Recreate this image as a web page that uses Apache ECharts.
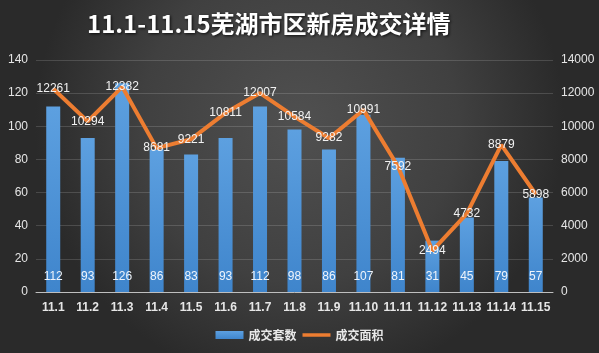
<!DOCTYPE html>
<html>
<head>
<meta charset="utf-8">
<script src="https://cdn.jsdelivr.net/npm/echarts@6/dist/echarts.min.js"></script>
<style>html,body{margin:0;padding:0;background:#333;}#c{width:599px;height:353px;}</style>
</head>
<body>
<div id="c"></div>
<script>
var categories = ['11.1','11.2','11.3','11.4','11.5','11.6','11.7','11.8','11.9','11.10','11.11','11.12','11.13','11.14','11.15'];
var units = [112, 93, 126, 86, 83, 93, 112, 98, 86, 107, 81, 31, 45, 79, 57];
var areas = [12261, 10294, 12382, 8681, 9221, 10811, 12007, 10584, 9282, 10991, 7592, 2494, 4732, 8879, 5898];
var leftTicks = [0, 20, 40, 60, 80, 100, 120, 140];
var rightTicks = [0, 2000, 4000, 6000, 8000, 10000, 12000, 14000];

var chart = echarts.init(document.getElementById('c'), null, {renderer: 'canvas'});
var labelFont = '"Liberation Sans", "Noto Sans", sans-serif';
var option = {
  animation: false,
  backgroundColor: {
    type: 'radial', x: 0.5, y: 0.35, r: 0.75,
    colorStops: [{offset: 0, color: '#505050'}, {offset: 0.6, color: '#404040'}, {offset: 1, color: '#2a2a2a'}]
  },
  title: {
    text: '11.1-11.15芜湖市区新房成交详情',
    left: 82, top: 7,
    textStyle: {
      color: '#ffffff', fontSize: 24, fontWeight: 'bold',
      fontFamily: '"Noto Sans CJK SC", sans-serif',
      textShadowColor: 'rgba(0,0,0,0.8)', textShadowBlur: 3, textShadowOffsetX: 1, textShadowOffsetY: 1
    }
  },
  legend: {
    bottom: 7, left: 'center', itemGap: 6,
    itemWidth: 28, itemHeight: 8,
    textStyle: {color: '#e8e8e8', fontSize: 12, fontWeight: 'bold', fontFamily: '"Noto Sans CJK SC", sans-serif'},
    data: [{name: '成交套数', icon: 'rect'}, {name: '成交面积', icon: 'path://M0,0H28V3.5H0Z'}]
  },
  grid: {left: 36, right: 46, top: 60, bottom: 61},
  xAxis: {
    type: 'category', data: categories,
    axisLine: {lineStyle: {color: '#bfbfbf', width: 1}},
    axisTick: {show: false},
    axisLabel: {color: '#e6e6e6', fontSize: 12, fontWeight: 'bold', margin: 10, fontFamily: labelFont, interval: 0}
  },
  yAxis: [{
    type: 'value', min: leftTicks[0], max: leftTicks[leftTicks.length - 1], interval: 20,
    axisLine: {show: false}, axisTick: {show: false},
    axisLabel: {color: '#e6e6e6', fontSize: 12, margin: 8, fontFamily: labelFont},
    splitLine: {lineStyle: {color: 'rgba(255,255,255,0.15)', width: 1}}
  }, {
    type: 'value', min: rightTicks[0], max: rightTicks[rightTicks.length - 1], interval: 2000,
    axisLine: {show: false}, axisTick: {show: false},
    axisLabel: {color: '#e6e6e6', fontSize: 12, margin: 8, fontFamily: labelFont, formatter: function (v) { return String(v); }},
    splitLine: {show: false}
  }],
  series: [{
    name: '成交套数', type: 'bar', data: units, barWidth: 14, yAxisIndex: 0,
    itemStyle: {
      color: {type: 'linear', x: 0, y: 0, x2: 0, y2: 1,
        colorStops: [{offset: 0, color: '#5da0e0'}, {offset: 1, color: '#3f85cc'}]}
    },
    label: {show: true, position: 'insideBottom', distance: 9, color: '#eef4fb', fontSize: 12, fontFamily: labelFont}
  }, {
    name: '成交面积', type: 'line', data: areas, yAxisIndex: 1,
    symbol: 'circle', symbolSize: 1, itemStyle: {color: '#ed7d31'},
    lineStyle: {color: '#ed7d31', width: 4},
    label: {show: true, position: 'inside', color: '#f2f2f2', fontSize: 12, fontFamily: labelFont}
  }]
};
chart.setOption(option);
</script>
</body>
</html>
